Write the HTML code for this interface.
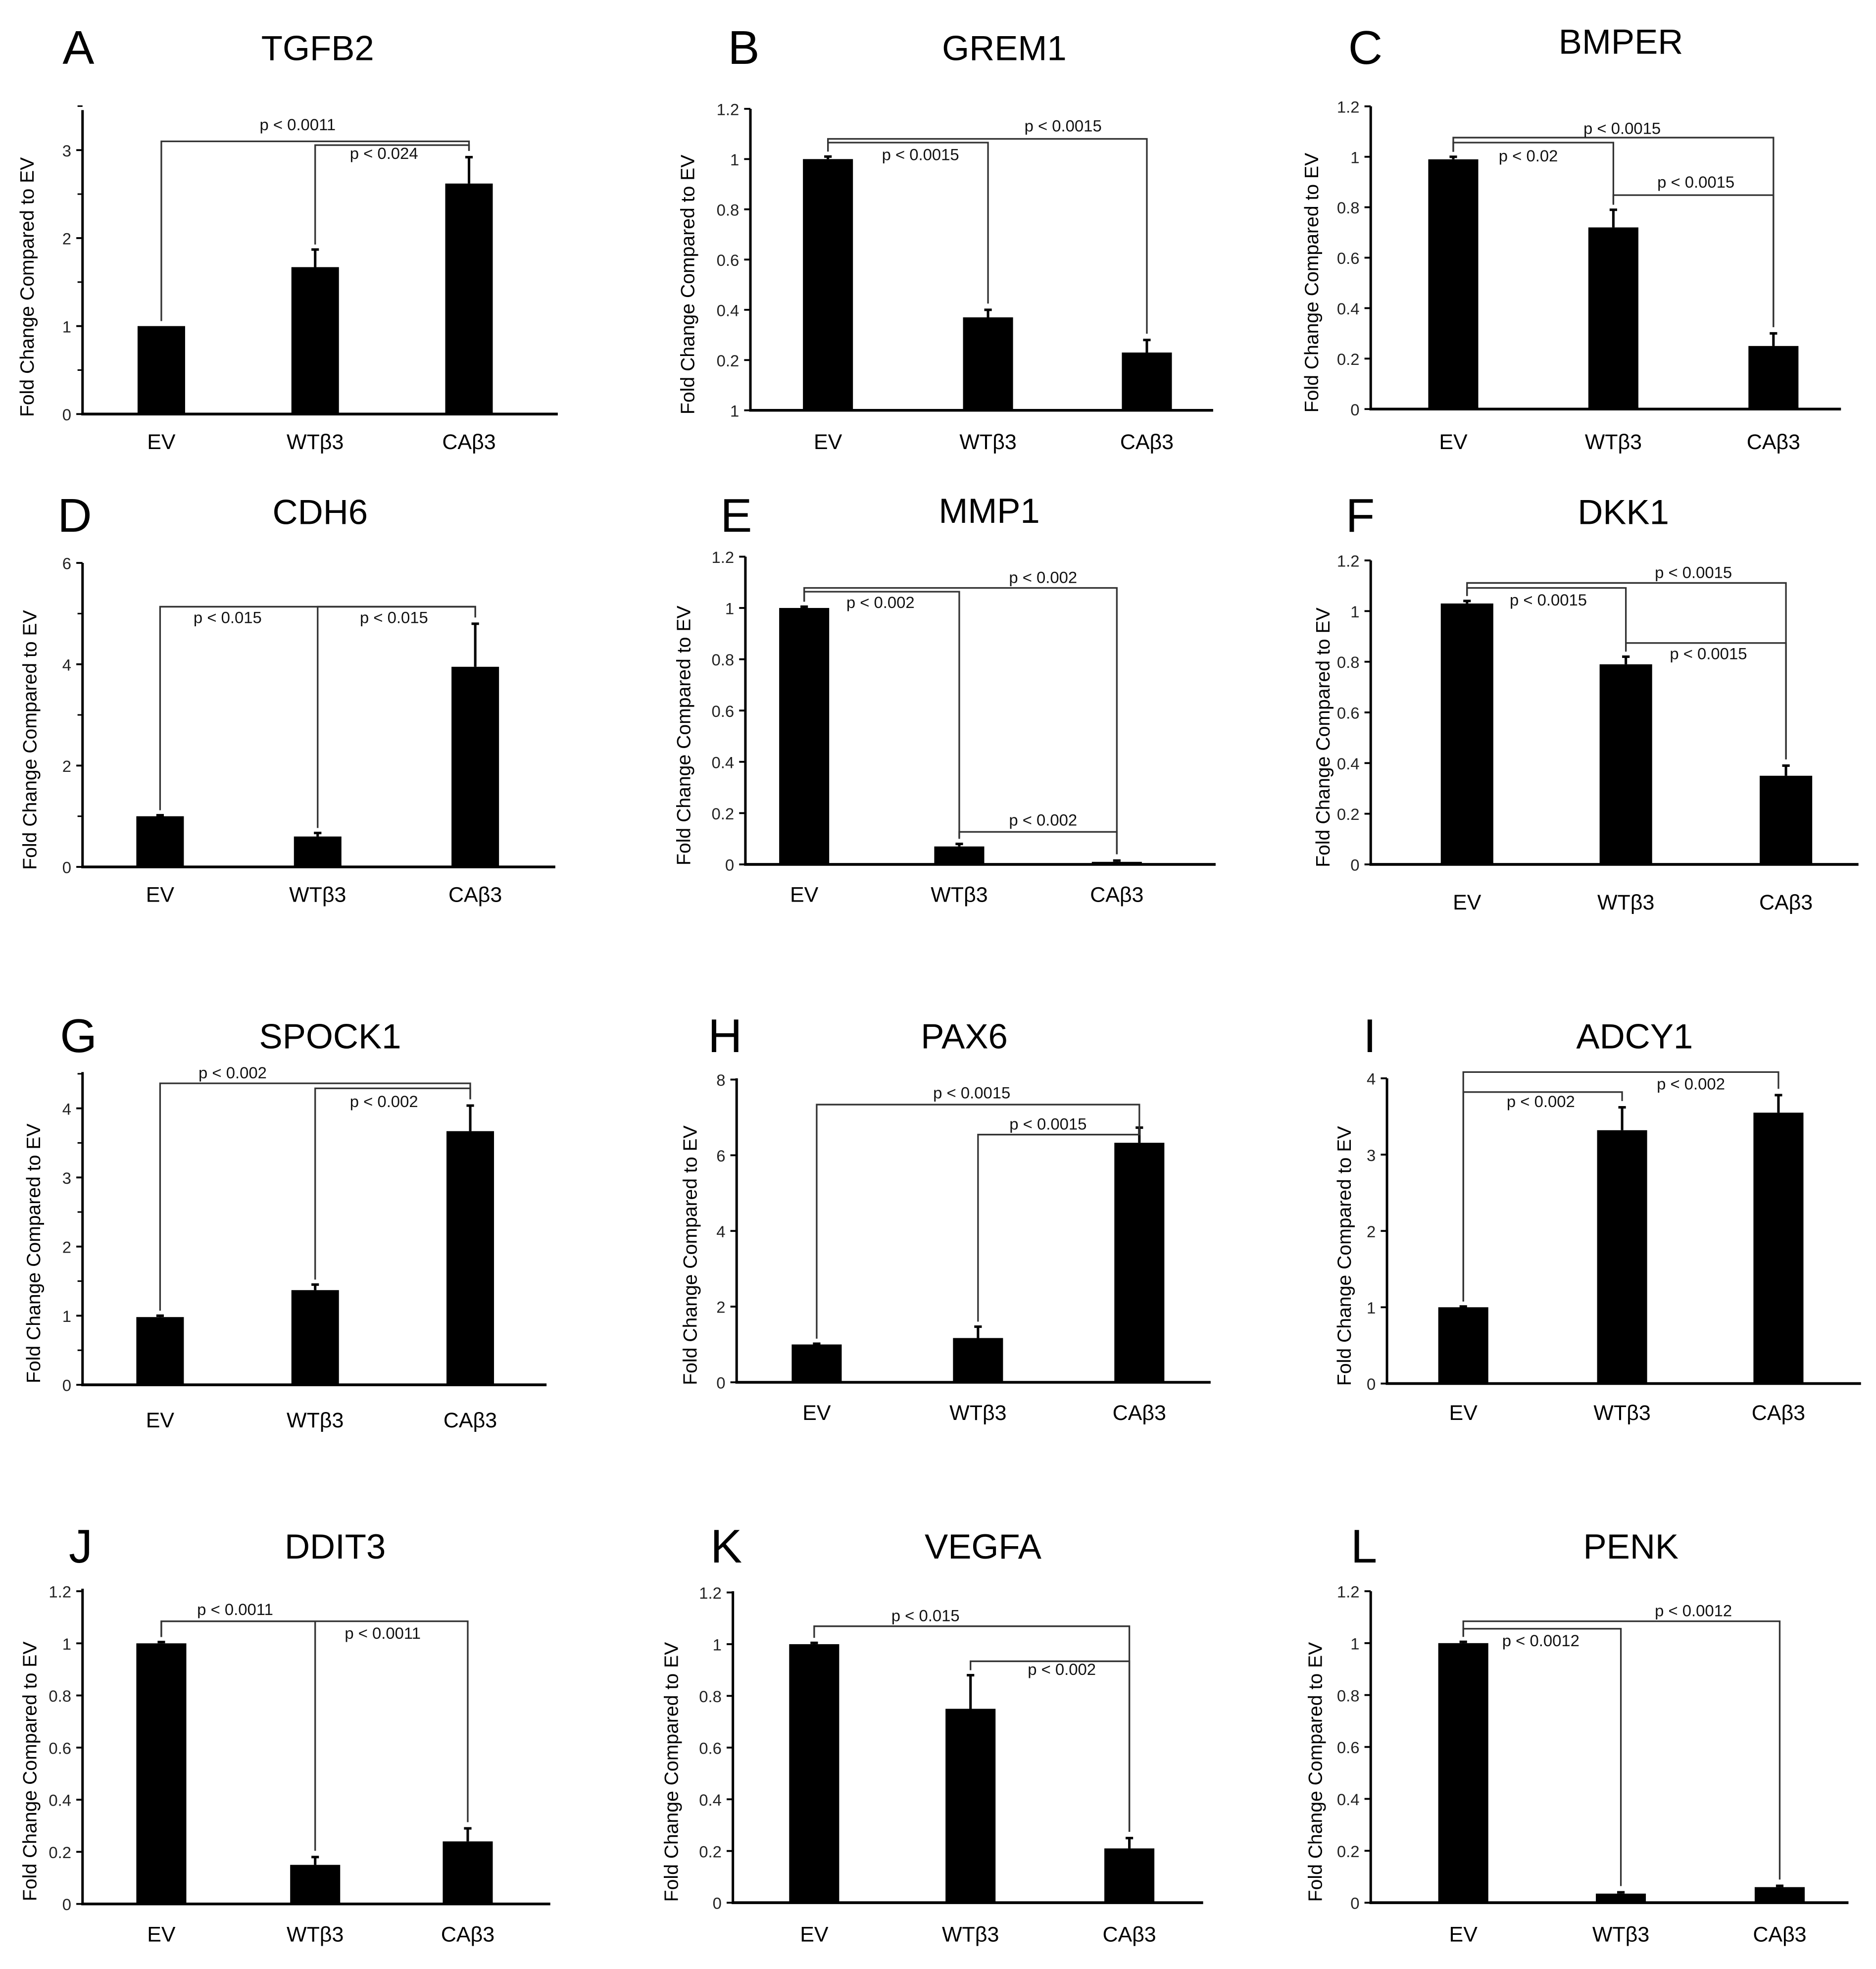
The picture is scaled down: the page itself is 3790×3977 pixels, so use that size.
<!DOCTYPE html>
<html><head><meta charset="utf-8"><style>
html,body{margin:0;padding:0;background:#fff;}
svg{display:block;font-family:"Liberation Sans",sans-serif;}
</style></head><body>
<svg id="fig" xmlns="http://www.w3.org/2000/svg" width="3790" height="3977" viewBox="0 0 1500 1574" preserveAspectRatio="none"></svg>
<script>
const panelLetters = ["A","B","C","D","E","F","G","H","I","J","K","L"];
const panelTitles = ["TGFB2","GREM1","BMPER","CDH6","MMP1","DKK1","SPOCK1","PAX6","ADCY1","DDIT3","VEGFA","PENK"];
const categories = ["EV","WTβ3","CAβ3"];
const yMaxValues = [3.5,1.2,1.2,6,1.2,1.2,4.5,8,4,1.2,1.2,1.2];
const tickLabels = [
  ["0","1","2","3"],
  ["1","0.2","0.4","0.6","0.8","1","1.2"],
  ["0","0.2","0.4","0.6","0.8","1","1.2"],
  ["0","2","4","6"],
  ["0","0.2","0.4","0.6","0.8","1","1.2"],
  ["0","0.2","0.4","0.6","0.8","1","1.2"],
  ["0","1","2","3","4"],
  ["0","2","4","6","8"],
  ["0","1","2","3","4"],
  ["0","0.2","0.4","0.6","0.8","1","1.2"],
  ["0","0.2","0.4","0.6","0.8","1","1.2"],
  ["0","0.2","0.4","0.6","0.8","1","1.2"]
];
const tickValues = [
  [0,1,2,3],[0,0.2,0.4,0.6,0.8,1,1.2],[0,0.2,0.4,0.6,0.8,1,1.2],[0,2,4,6],
  [0,0.2,0.4,0.6,0.8,1,1.2],[0,0.2,0.4,0.6,0.8,1,1.2],[0,1,2,3,4],[0,2,4,6,8],
  [0,1,2,3,4],[0,0.2,0.4,0.6,0.8,1,1.2],[0,0.2,0.4,0.6,0.8,1,1.2],[0,0.2,0.4,0.6,0.8,1,1.2]
];
const minorTicks = [
  [0.5,1.5,2.5,3.5],[],[],[1,3,5],[],[],[0.5,1.5,2.5,3.5,4.5],[],[],[],[],[]
];
const barValues = [
  [1.0,1.67,2.62],[1.0,0.37,0.23],[0.99,0.72,0.25],[1.0,0.6,3.95],
  [1.0,0.07,0.01],[1.03,0.79,0.35],[0.98,1.37,3.67],[1.0,1.17,6.33],
  [1.0,3.32,3.55],[1.0,0.15,0.24],[1.0,0.75,0.21],[1.0,0.035,0.06]
];
const barErrors = [
  [0,0.2,0.3],[0.01,0.03,0.05],[0.01,0.07,0.05],[0.02,0.07,0.85],
  [0.005,0.01,0.005],[0.01,0.03,0.04],[0.02,0.08,0.37],[0.02,0.3,0.4],
  [0.01,0.3,0.23],[0.005,0.03,0.05],[0.005,0.13,0.04],[0.005,0.005,0.005]
];
// comparisons: [fromBar, toBar, label]
const comparisons = [
  [[0,2,"p < 0.0011"],[1,2,"p < 0.024"]],
  [[0,1,"p < 0.0015"],[0,2,"p < 0.0015"]],
  [[0,1,"p < 0.02"],[0,2,"p < 0.0015"],[1,2,"p < 0.0015"]],
  [[0,2,"p < 0.015"],[1,2,"p < 0.015"]],
  [[0,1,"p < 0.002"],[0,2,"p < 0.002"],[1,2,"p < 0.002"]],
  [[0,1,"p < 0.0015"],[0,2,"p < 0.0015"],[1,2,"p < 0.0015"]],
  [[0,2,"p < 0.002"],[1,2,"p < 0.002"]],
  [[0,2,"p < 0.0015"],[1,2,"p < 0.0015"]],
  [[0,1,"p < 0.002"],[0,2,"p < 0.002"]],
  [[0,1,"p < 0.0011"],[0,2,"p < 0.0011"]],
  [[0,2,"p < 0.015"],[1,2,"p < 0.002"]],
  [[0,1,"p < 0.0012"],[0,2,"p < 0.0012"]]
];

// layout (pixel geometry, display coords)
const layout = [
 {ax:66,top:88,zero:331,ref:3,refY:120,right:446,bars:[129,252,375],bw:38,title:[254,38],letter:[50,38],cat:353,yl:22,
  br:[{y:113,lx:238,ly:104},{y:116,lx:307,ly:127}]},
 {ax:600,top:87,zero:328,ref:1.2,refY:87,right:970,bars:[662,790,917],bw:40,title:[803,38],letter:[582,38],cat:353,yl:550,
  br:[{y:114,lx:736,ly:128},{y:111,lx:850,ly:105}]},
 {ax:1096,top:85,zero:327,ref:1.2,refY:85,right:1472,bars:[1162,1290,1418],bw:40,title:[1296,33],letter:[1078,38],cat:353,yl:1049,
  br:[{y:114,lx:1222,ly:129},{y:110,lx:1297,ly:107},{y:156,lx:1356,ly:150}]},
 {ax:66,top:450,zero:693,ref:6,refY:450,right:444,bars:[128,254,380],bw:38,title:[256,409],letter:[46,412],cat:715,yl:24,
  br:[{y:485,lx:182,ly:498},{y:485,lx:315,ly:498}]},
 {ax:596,top:445,zero:691,ref:1.2,refY:445,right:972,bars:[643,767,893],bw:40,title:[791,408],letter:[576,412],cat:715,yl:547,
  br:[{y:473,lx:704,ly:486},{y:470,lx:834,ly:466},{y:665,lx:834,ly:660}]},
 {ax:1096,top:448,zero:691,ref:1.2,refY:448,right:1486,bars:[1173,1300,1428],bw:42,title:[1298,409],letter:[1076,412],cat:721,yl:1058,
  br:[{y:470,lx:1238,ly:484},{y:466,lx:1354,ly:462},{y:514,lx:1366,ly:527}]},
 {ax:66,top:857,zero:1107,ref:4,refY:886,right:437,bars:[128,252,376],bw:38,title:[264,828],letter:[48,828],cat:1135,yl:27,
  br:[{y:866,lx:186,ly:862},{y:870,lx:307,ly:885}]},
 {ax:589,top:862,zero:1105,ref:8,refY:863,right:968,bars:[653,782,911],bw:40,title:[771,828],letter:[566,828],cat:1129,yl:552,
  br:[{y:883,lx:777,ly:878},{y:907,lx:838,ly:903}]},
 {ax:1109,top:862,zero:1106,ref:4,refY:862,right:1488,bars:[1170,1297,1422],bw:40,title:[1307,828],letter:[1090,828],cat:1129,yl:1075,
  br:[{y:873,lx:1232,ly:885},{y:857,lx:1352,ly:871}]},
 {ax:66,top:1270,zero:1522,ref:1.2,refY:1272,right:440,bars:[129,252,374],bw:40,title:[268,1236],letter:[55,1236],cat:1546,yl:24,
  br:[{y:1296,lx:188,ly:1291},{y:1296,lx:306,ly:1310}]},
 {ax:586,top:1272,zero:1521,ref:1.2,refY:1273,right:962,bars:[651,776,903],bw:40,title:[786,1236],letter:[568,1236],cat:1546,yl:537,
  br:[{y:1300,lx:740,ly:1296},{y:1328,lx:849,ly:1339}]},
 {ax:1096,top:1272,zero:1521,ref:1.2,refY:1272,right:1478,bars:[1170,1296,1423],bw:40,title:[1304,1236],letter:[1080,1236],cat:1546,yl:1052,
  br:[{y:1302,lx:1232,ly:1316},{y:1296,lx:1354,ly:1292}]}
];

const NS = "http://www.w3.org/2000/svg";
const svg = document.getElementById("fig");
function mk(tag, attrs, parent, text){
  const e = document.createElementNS(NS, tag);
  for (const k in attrs) e.setAttribute(k, attrs[k]);
  if (text !== undefined) e.textContent = text;
  parent.appendChild(e);
  return e;
}

panelTitles.forEach((title, p) => {
  const L = layout[p];
  const yScale = v => L.zero - v * (L.zero - L.refY) / L.ref;
  const g = mk("g", {}, svg);
  
  

  const letter = mk("text", {x:L.letter[0], y:L.letter[1]+13, "font-size":38, "text-anchor":"start"}, g, panelLetters[p]);
  
  
  const t = mk("text", {x:L.title[0], y:L.title[1]+10, "font-size":28, "text-anchor":"middle"}, g, title);
  
  

  // axes
  const ya = mk("line", {x1:L.ax, y1:L.top, x2:L.ax, y2:L.zero+1, stroke:"#000", "stroke-width":2}, g);
  
  
  const xa = mk("line", {x1:L.ax-1, y1:L.zero, x2:L.right, y2:L.zero, stroke:"#000", "stroke-width":2.2}, g);
  
  

  tickValues[p].forEach((v, i) => {
    const y = yScale(v);
    const tk = mk("line", {x1:L.ax-5, y1:y, x2:L.ax, y2:y, stroke:"#000", "stroke-width":1.5}, g);
    
    
    const tl = mk("text", {x:L.ax-9, y:y+5, "font-size":13, "text-anchor":"end", fill:"#222"}, g, tickLabels[p][i]);
    
    
  });
  minorTicks[p].forEach(v => {
    const y = yScale(v);
    const mt = mk("line", {x1:L.ax-4, y1:y, x2:L.ax, y2:y, stroke:"#000", "stroke-width":1.2}, g);
    
    
  });

  const yl = mk("text", {x:0, y:0, "font-size":15.5, "text-anchor":"middle", transform:`translate(${L.yl+5},${(L.top+L.zero)/2+20}) rotate(-90)`}, g, "Fold Change Compared to EV");
  
  

  const tops = [];
  barValues[p].forEach((v, i) => {
    const cx = L.bars[i];
    const y = yScale(v);
    const b = mk("rect", {x:cx-L.bw/2, y:y, width:L.bw, height:L.zero-y, fill:"#000"}, g);
    
    
    const e = barErrors[p][i];
    const ye = yScale(v + e);
    tops.push(ye);
    if (e > 0) {
      const el = mk("line", {x1:cx, y1:y, x2:cx, y2:ye, stroke:"#000", "stroke-width":2}, g);
      
      
      const ec = mk("line", {x1:cx-3, y1:ye, x2:cx+3, y2:ye, stroke:"#000", "stroke-width":2}, g);
      
      
    }
    const cl = mk("text", {x:cx, y:L.cat+6, "font-size":17, "text-anchor":"middle"}, g, categories[i]);
    
    
  });

  comparisons[p].forEach((c, k) => {
    const B = L.br[k];
    const x1 = L.bars[c[0]], x2 = L.bars[c[1]];
    const yA = tops[c[0]] - 4, yB = tops[c[1]] - 5;
    const path = mk("path", {d:`M${x1},${yA} V${B.y} H${x2} V${yB}`, fill:"none", stroke:"#333", "stroke-width":1.3}, g);
    
    
    const pl = mk("text", {x:B.lx, y:B.ly, "font-size":13, "text-anchor":"middle", fill:"#111"}, g, c[2]);
    
    
  });
});
</script>
</body></html>
